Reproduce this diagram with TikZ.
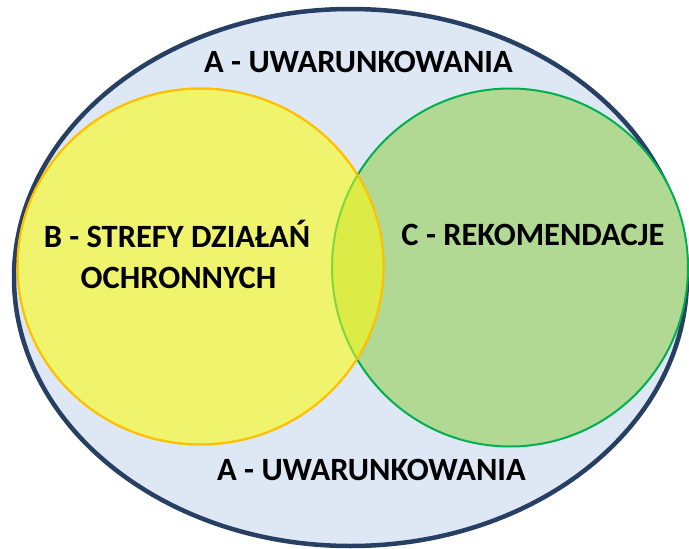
\documentclass[tikz,border=0pt]{standalone}
\usepackage{fontspec}
\setmainfont{Carlito}
\definecolor{outerfill}{HTML}{DEE8F4}
\definecolor{outerline}{HTML}{263F63}
\definecolor{yfill}{HTML}{F0F46C}
\definecolor{yline}{HTML}{FFC000}
\definecolor{gfill}{HTML}{B1D993}
\definecolor{gline}{HTML}{00B050}
\definecolor{ifill}{HTML}{DCEB45}
\definecolor{iline}{HTML}{80D63E}
\begin{document}
\begin{tikzpicture}[x=1pt,y=-1pt,
  lbl/.style={font=\bfseries\fontsize{32.5}{41}\selectfont, inner sep=0pt, anchor=base},
  venn/.style={line width=2pt}]
\useasboundingbox (0,0) rectangle (689,549);
\draw[line width=4.5pt, draw=outerline, fill=outerfill] (350.5,277.5) ellipse [x radius=336.5pt, y radius=268.5pt];
\draw[venn, draw=gline, fill=gfill] (510,267.5) ellipse [x radius=178pt, y radius=179pt];
\draw[venn, draw=yline, fill=yfill] (200.5,266.5) ellipse [x radius=183pt, y radius=178pt];
\begin{scope}
  \clip (200.5,266.5) ellipse [x radius=183pt, y radius=178pt];
  \draw[venn, draw=iline, fill=ifill] (510,267.5) ellipse [x radius=178pt, y radius=179pt];
\end{scope}
\draw[venn, draw=yline] (200.5,266.5) ellipse [x radius=183pt, y radius=178pt];
\node[lbl] (atop) at (358.5,72) {A - UWARUNKOWANIA};
\node[lbl] (abot) at (371.5,480) {A - UWARUNKOWANIA};
\node[lbl] (b1) at (177,247) {B - STREFY DZIAŁAŃ};
\node[lbl] (b2) at (178.5,288) {OCHRONNYCH};
\node[lbl] (c) at (533,245) {C - REKOMENDACJE};
\end{tikzpicture}
\end{document}
